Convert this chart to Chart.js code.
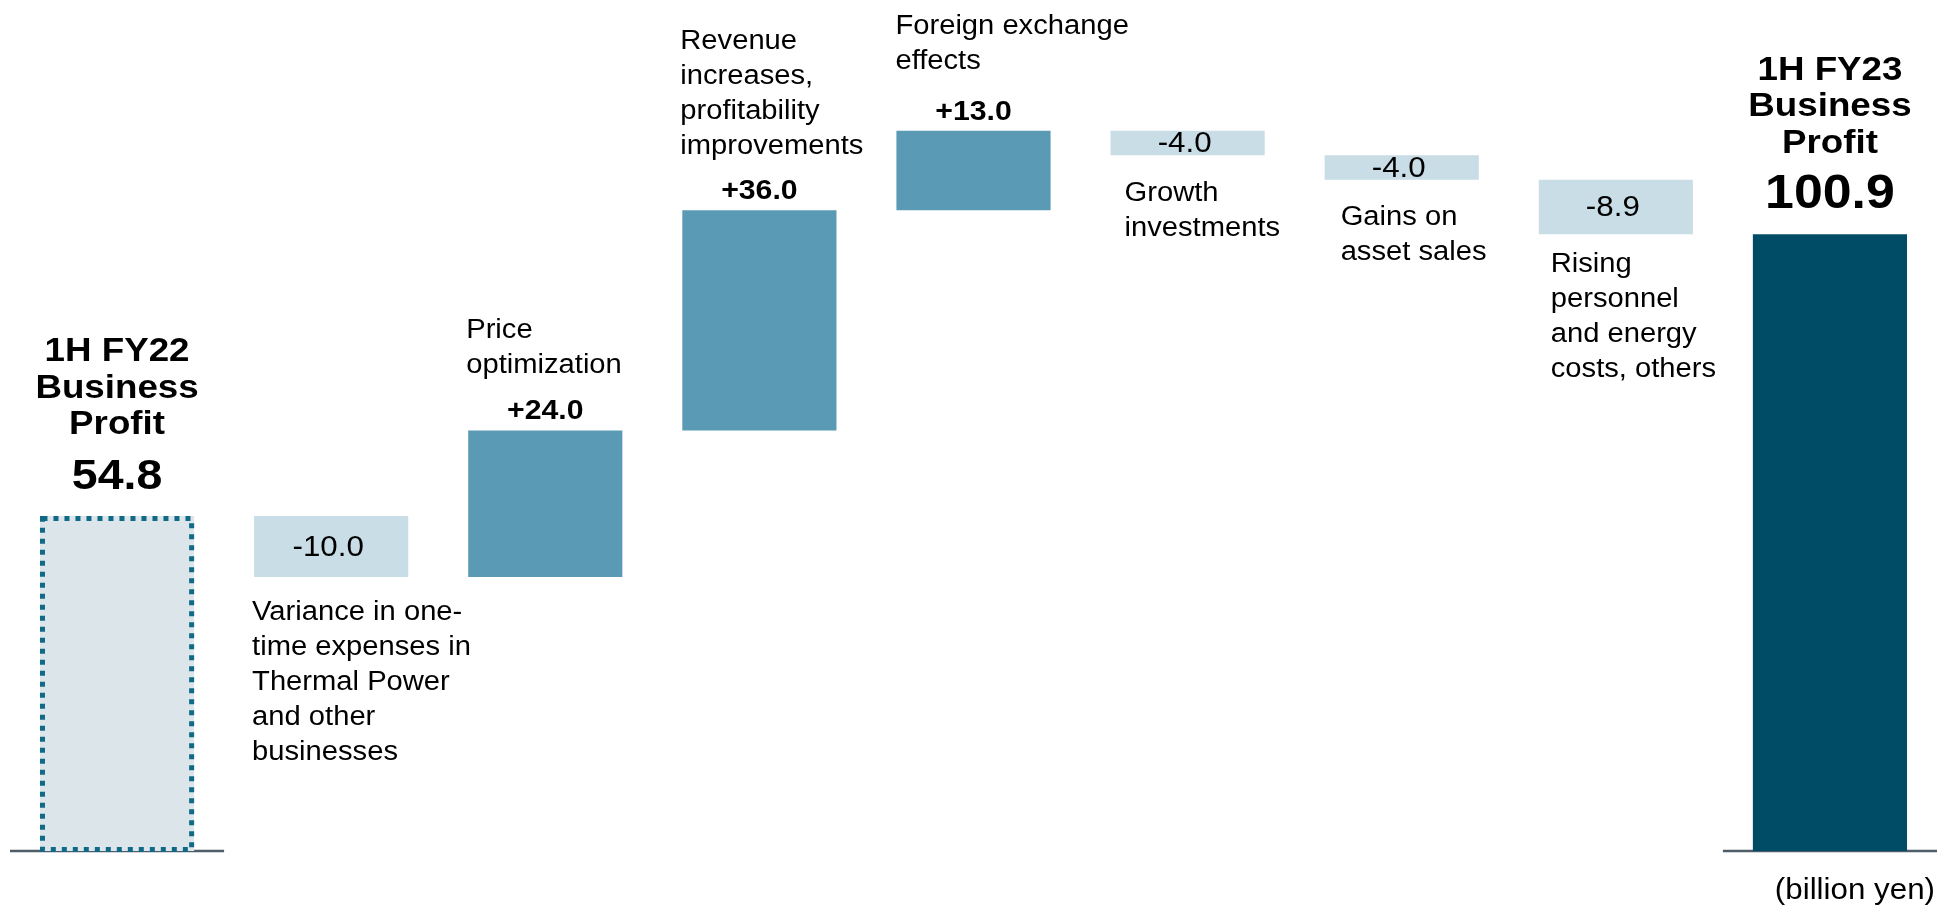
<!DOCTYPE html>
<html>
<head>
<meta charset="utf-8">
<title>Business Profit Bridge 1H FY22 to 1H FY23</title>
<script src="https://cdn.jsdelivr.net/npm/chart.js@4.4.1/dist/chart.umd.min.js"></script>
<style>
  html, body { margin: 0; padding: 0; background: #ffffff; overflow: hidden; }
  canvas { display: block; }
</style>
</head>
<body>
<canvas id="bridge" width="1937" height="908"></canvas>
<script>
// ---- Data (billion yen) ----
const categoryLabels = [
  ['1H FY22', 'Business', 'Profit'],
  ['Variance in one-', 'time expenses in', 'Thermal Power', 'and other', 'businesses'],
  ['Price', 'optimization'],
  ['Revenue', 'increases,', 'profitability', 'improvements'],
  ['Foreign exchange', 'effects'],
  ['Growth', 'investments'],
  ['Gains on', 'asset sales'],
  ['Rising', 'personnel', 'and energy', 'costs, others'],
  ['1H FY23', 'Business', 'Profit']
];
const startTotal = 54.8;
const changes = [-10.0, 24.0, 36.0, 13.0, -4.0, -4.0, -8.9];
const endTotal = 100.9;
const unitLabel = '(billion yen)';

// ---- Build floating ranges for the waterfall ----
const values = [startTotal, ...changes, endTotal];
const ranges = [[0, startTotal]];
let level = startTotal;
for (const d of changes) {
  const next = Math.round((level + d) * 10) / 10;
  ranges.push([level, next]);
  level = next;
}
ranges.push([0, endTotal]);
const kinds = values.map((v, i) =>
  i === 0 ? 'start' : i === values.length - 1 ? 'end' : (v < 0 ? 'down' : 'up'));

// ---- Styling ----
const COLORS = {
  start: '#dce5e9',
  startBorder: '#0f6987',
  down: '#c8dde6',
  up: '#5b9ab5',
  end: '#004c66',
  axis: '#4e5d68',
  text: '#000000'
};
const FONT = 'Arial, "Liberation Sans", Helvetica, sans-serif';
const STRETCH = 1.08;           // horizontal text stretch
const LINE = 35;                // category label line spacing
const TITLE_LINE = 36.5;        // total-bar title line spacing
const totalValueFont = { start: 'bold 43px ', end: 'bold 48px ' };
// per-bar label nudges [dx, dy] relative to the bar's left edge
const labelNudge = [[0, 0], [-2, 1], [-2, 4], [-2, 5], [-1, 0], [14, 4], [16, 4], [12, -4], [0, 0]];

function drawText(ctx, text, x, y, font, align) {
  ctx.save();
  ctx.font = font;
  ctx.fillStyle = COLORS.text;
  ctx.textBaseline = 'middle';
  ctx.textAlign = align;
  ctx.translate(x, y);
  ctx.scale(STRETCH, 1);
  ctx.fillText(text, 0, 0);
  ctx.restore();
}

function formatValue(v, kind) {
  if (kind === 'up') return '+' + v.toFixed(1);
  return v.toFixed(1);
}

const bridgeDecor = {
  id: 'bridgeDecor',
  beforeDatasetsDraw(chart) {
    const ctx = chart.ctx;
    const xs = chart.scales.x, ys = chart.scales.y;
    const step = xs.getPixelForValue(1) - xs.getPixelForValue(0);
    const y0 = ys.getPixelForValue(0);
    ctx.save();
    ctx.strokeStyle = COLORS.axis;
    ctx.lineWidth = 2.5;
    [0, values.length - 1].forEach(i => {
      const cx = xs.getPixelForValue(i);
      ctx.beginPath();
      ctx.moveTo(cx - step / 2, y0);
      ctx.lineTo(Math.min(cx + step / 2, chart.width), y0);
      ctx.stroke();
    });
    ctx.restore();
  },
  afterDatasetsDraw(chart) {
    const ctx = chart.ctx;
    const meta = chart.getDatasetMeta(0);
    meta.data.forEach((bar, i) => {
      const p = bar.getProps(['x', 'y', 'base', 'width'], true);
      const top = Math.min(p.y, p.base);
      const bottom = Math.max(p.y, p.base);
      const left = p.x - p.width / 2;
      const kind = kinds[i];
      const lines = categoryLabels[i];
      const [dx, dy] = labelNudge[i];

      if (kind === 'start') {
        // dotted outline for the prior-period bar
        ctx.save();
        ctx.strokeStyle = COLORS.startBorder;
        ctx.lineWidth = 5;
        ctx.setLineDash([5, 6]);
        ctx.strokeRect(left + 2.5, top + 2.5, p.width - 5, bottom - top - 4);
        ctx.restore();
      }

      if (kind === 'start' || kind === 'end') {
        const vy = top - 39;
        drawText(ctx, values[i].toFixed(1), p.x, vy, totalValueFont[kind] + FONT, 'center');
        const n = lines.length;
        lines.forEach((t, k) => {
          drawText(ctx, t, p.x, vy - 52 - (n - 1 - k) * TITLE_LINE, 'bold 34px ' + FONT, 'center');
        });
      } else if (kind === 'up') {
        const vy = top - 19;
        drawText(ctx, formatValue(values[i], kind), p.x, vy, 'bold 28px ' + FONT, 'center');
        const n = lines.length;
        lines.forEach((t, k) => {
          drawText(ctx, t, left + dx, vy - 50 - (n - 1 - k) * LINE + dy, '27px ' + FONT, 'left');
        });
      } else {
        drawText(ctx, formatValue(values[i], kind), p.x - 3, (top + bottom) / 2 + 1, '29px ' + FONT, 'center');
        lines.forEach((t, k) => {
          drawText(ctx, t, left + dx, bottom + 34 + k * LINE + dy, '27px ' + FONT, 'left');
        });
      }
    });

    // unit note
    const ys = chart.scales.y;
    drawText(ctx, unitLabel, chart.width - 2, ys.getPixelForValue(0) + 40, '29px ' + FONT, 'right');
  }
};

new Chart(document.getElementById('bridge'), {
  type: 'bar',
  data: {
    labels: categoryLabels.map(l => l.join(' ')),
    datasets: [{
      data: ranges,
      backgroundColor: kinds.map(k => COLORS[k]),
      borderWidth: 0,
      borderSkipped: false,
      barPercentage: 0.72,
      categoryPercentage: 1.0
    }]
  },
  options: {
    responsive: false,
    animation: false,
    layout: { padding: { left: 10, right: 0, top: 0, bottom: 57 } },
    plugins: {
      legend: { display: false },
      tooltip: { enabled: false },
      title: { display: false }
    },
    scales: {
      x: { display: false, grid: { display: false } },
      y: { display: false, min: 0, max: 139.2, grid: { display: false } }
    }
  },
  plugins: [bridgeDecor]
});
</script>
</body>
</html>
